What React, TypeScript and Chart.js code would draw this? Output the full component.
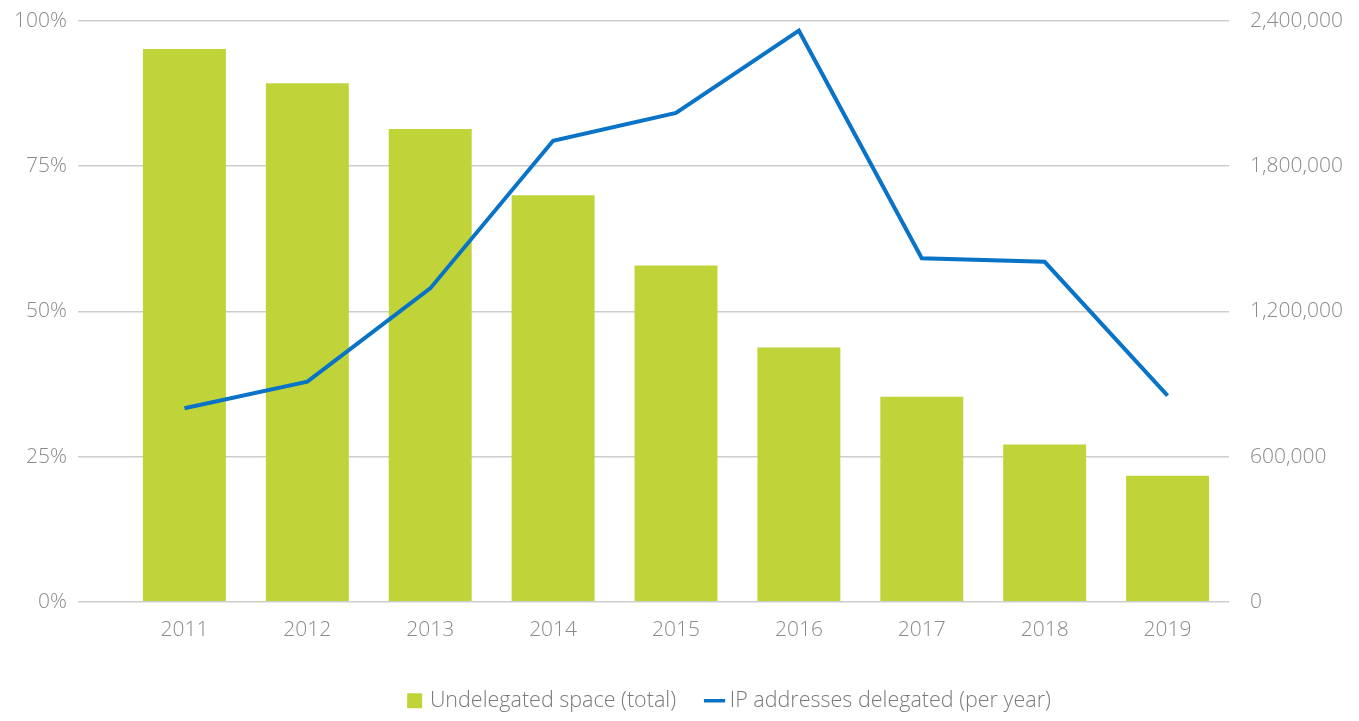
import React, { useEffect, useRef } from "react";
import { Chart, registerables } from "chart.js";

Chart.register(...registerables);

const years = ["2011", "2012", "2013", "2014", "2015", "2016", "2017", "2018", "2019"];
const undelegatedPct = [95.2, 89.3, 81.4, 70.0, 57.9, 43.8, 35.3, 27.1, 21.7];
const delegatedPerYear = [800000, 910000, 1295000, 1905000, 2020000, 2360000, 1420000, 1405000, 852000];
const leftTicks = [0, 25, 50, 75, 100];
const rightTicks = [0, 600000, 1200000, 1800000, 2400000];

const FONT = "'Open Sans', 'DejaVu Sans', sans-serif";
const TICK_COLOR = "#8a8a8a";
const GREEN = "#c0d43a";
const BLUE = "#0873c7";

const LEGEND_PAD = 34;
const LEGEND_H = 62;
const LEGEND_DX = 51;
const LEGEND_DY = -3;

const legendTweak = {
  id: "legendTweak",
  beforeLayout(chart: any) {
    const lg = chart.legend;
    if (lg && !lg.__patched) {
      const origFit = lg.fit.bind(lg);
      lg.fit = function () {
        origFit();
        this.height = LEGEND_H;
      };
      lg.__patched = true;
    }
  },
  afterLayout(chart: any) {
    const lg = chart.legend;
    if (!lg) return;
    lg.left += LEGEND_DX;
    lg.right += LEGEND_DX;
    lg.top += LEGEND_DY;
    lg.bottom = chart.height;
  },
};

export default function App() {
  const ref = useRef<HTMLCanvasElement | null>(null);

  useEffect(() => {
    if (!ref.current) return;
    const chart = new Chart(ref.current, {
      data: {
        labels: years,
        datasets: [
          {
            type: "line",
            label: "IP addresses delegated (per year)",
            data: delegatedPerYear,
            yAxisID: "yR",
            borderColor: BLUE,
            backgroundColor: BLUE,
            borderWidth: 4,
            pointRadius: 0,
            tension: 0,
            order: 0,
          },
          {
            type: "bar",
            label: "Undelegated space (total)",
            data: undelegatedPct,
            yAxisID: "yL",
            backgroundColor: GREEN,
            borderWidth: 0,
            barPercentage: 0.675,
            categoryPercentage: 1,
            order: 1,
          },
        ],
      } as any,
      options: {
        animation: false,
        responsive: true,
        maintainAspectRatio: false,
        layout: { padding: 0 },
        plugins: {
          tooltip: { enabled: false },
          legend: {
            position: "bottom",
            reverse: true,
            labels: {
              font: { family: FONT, size: 21.5, weight: 300 as any },
              color: "#7a7a7a",
              usePointStyle: true,
              boxWidth: 9,
              boxHeight: 15,
              padding: LEGEND_PAD,
              generateLabels: (c: any) => {
                const items = Chart.defaults.plugins.legend.labels.generateLabels(c);
                return items.map((it: any) => {
                  if (it.datasetIndex === 1) {
                    return { ...it, pointStyle: "rect", fillStyle: GREEN, strokeStyle: GREEN, lineWidth: 0 };
                  }
                  return { ...it, pointStyle: "line", fillStyle: BLUE, strokeStyle: BLUE, lineWidth: 3.5 };
                });
              },
            },
          },
        },
        scales: {
          x: {
            grid: { display: false, drawTicks: false },
            border: { display: false },
            offset: true,
            ticks: {
              font: { family: FONT, size: 21, weight: 300 as any },
              color: TICK_COLOR,
              padding: 16,
            },
          },
          yL: {
            type: "linear",
            position: "left",
            min: 0,
            max: 100,
            afterBuildTicks: (s: any) => {
              s.ticks = leftTicks.map((v) => ({ value: v }));
            },
            afterFit: (s: any) => {
              s.width = 115;
              s.paddingTop = 13;
              s.paddingBottom = 0;
            },
            grid: { color: "#cdcdcd", lineWidth: 1.6, tickLength: 45, drawTicks: true },
            border: { display: false },
            ticks: {
              font: { family: FONT, size: 21, weight: 300 as any },
              color: TICK_COLOR,
              padding: 11,
              callback: (v: any) => `${v}%`,
            },
          },
          yR: {
            type: "linear",
            position: "right",
            min: 0,
            max: 2400000,
            afterBuildTicks: (s: any) => {
              s.ticks = rightTicks.map((v) => ({ value: v }));
            },
            afterFit: (s: any) => {
              s.width = 122;
              s.paddingTop = 13;
              s.paddingBottom = 0;
            },
            grid: { display: false, drawTicks: false },
            border: { display: false },
            ticks: {
              font: { family: FONT, size: 21, weight: 300 as any },
              color: TICK_COLOR,
              padding: 21,
              callback: (v: any) => Number(v).toLocaleString("en-US"),
            },
          },
        },
      } as any,
      plugins: [legendTweak],
    });
    return () => chart.destroy();
  }, []);

  return (
    <div style={{ position: "relative", width: "1343px", height: "713px", marginBottom: "-8px" }}>
      <canvas ref={ref} />
    </div>
  );
}
